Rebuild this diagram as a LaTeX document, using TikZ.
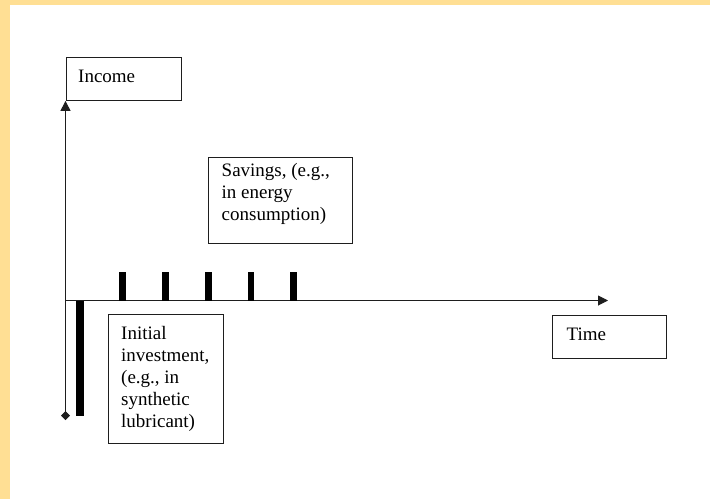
\documentclass[tikz,border=0pt]{standalone}
\usepackage{fontspec}
\setmainfont{Liberation Serif}
\usetikzlibrary{arrows.meta,calc}
\definecolor{bandc}{RGB}{255,223,148}
\definecolor{inkc}{RGB}{30,30,30}
\begin{document}
\begin{tikzpicture}[x=1pt,y=-1pt,
  box/.style={draw=inkc, line width=0.9pt, anchor=north west, inner sep=0pt},
  lbl/.style={anchor=base west, inner sep=0pt, align=left, text=black, font=\fontsize{19}{22}\selectfont},
  axis/.style={draw=inkc, line width=1pt},
  barc/.style={fill=black}]
\useasboundingbox (0,0) rectangle (710,499);
\fill[bandc] (0,0) rectangle (710,5);
\fill[bandc] (0,0) rectangle (10,499);
% boxes
\node[box, minimum width=115pt, minimum height=43pt] (income) at (65.5,57) {};
\node[box, minimum width=144pt, minimum height=86pt] (savings) at (208,157) {};
\node[box, minimum width=115pt, minimum height=129pt] (initial) at (108,314) {};
\node[box, minimum width=114pt, minimum height=43pt] (time) at (552,315) {};
% labels (base anchor = baseline of the last line)
\node[lbl] (incomet) at ($(income.north west)+(12.5,25)$) {Income};
\node[lbl] (savingst) at ($(savings.north west)+(13.5,63)$) {Savings, (e.g.,\\in energy\\consumption)};
\node[lbl] (initialt) at ($(initial.north west)+(13,113)$) {Initial\\investment,\\(e.g., in\\synthetic\\lubricant)};
\node[lbl] (timet) at ($(time.north west)+(14.5,25)$) {Time};
% axes
\coordinate (O) at (65.5,300.5);
\coordinate (ybot) at (65.5,420);
\coordinate (xend) at (608,300.5);
\draw[axis, {Diamond[length=9pt,width=9pt]}-{Triangle[length=10pt,width=10pt]}] (ybot) -- (income.south west);
\draw[axis, -{Triangle[length=10pt,width=10pt]}] (O) -- (xend);
% bars
\fill[barc] (75.5,300.5) rectangle (83.5,415.5);
\foreach \cx in {122.5,165.5,208.5,251,293.5}{
  \fill[barc] (\cx-3.25,272) rectangle (\cx+3.25,300.5);
}
\end{tikzpicture}
\end{document}
